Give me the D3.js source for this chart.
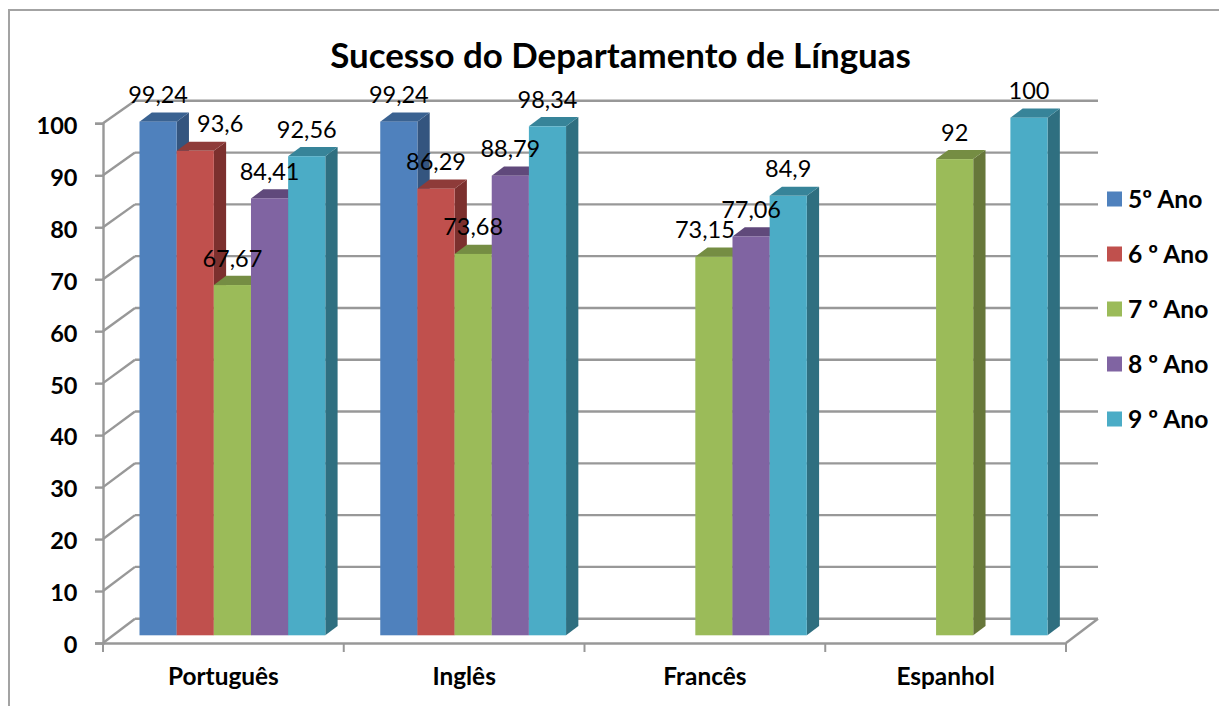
<!DOCTYPE html>
<html><head><meta charset="utf-8">
<style>html,body{margin:0;padding:0;background:#fff;overflow:hidden}svg{display:block}text{font-family:Lato,"Noto Sans",sans-serif;fill:#000}</style>
<script src="https://cdn.jsdelivr.net/npm/d3@7/dist/d3.min.js"></script>
</head><body><svg id="c" width="1219" height="706"></svg>
<script>
const title = "Sucesso do Departamento de Línguas";
const categories = ["Português","Inglês","Francês","Espanhol"];
const seriesNames = ["5º Ano","6 º Ano","7 º Ano","8 º Ano","9 º Ano"];
const ano5 = [99.24,99.24,null,null];
const ano6 = [93.6,86.29,null,null];
const ano7 = [67.67,73.68,73.15,92];
const ano8 = [84.41,88.79,77.06,null];
const ano9 = [92.56,98.34,84.9,100];
const valueLists = [ano5,ano6,ano7,ano8,ano9];
const yTicks = [0,10,20,30,40,50,60,70,80,90,100];
const frontColors = ["#4F81BD","#C0504D","#9BBB59","#8064A2","#4BACC6"];
const topColors = ["#3A6291","#8E3B39","#758D43","#60497B","#378499"];
const sideColors = ["#34557F","#7C302E","#67773A","#54406F","#2F6F80"];

const svg = d3.select("#c");
const W = 1219, H = 706;
const grid = "#989898";
const yFront = d3.scaleLinear().domain([0,100]).range([643,123.3]);
const yBar = d3.scaleLinear().domain([0,100]).range([635.3,117.7]);
const yBack = d3.scaleLinear().domain([0,100]).range([618.7,100.8]);
const x0 = d3.scaleBand().domain(categories).range([103,1066]);
const x1 = d3.scaleBand().domain(seriesNames).range([36.5,222.3]);
const wallDx = 32, depthX = 12.3, depthY = 9.2;

// outer frame
svg.append("path").attr("d",`M9,${H} V10 H${W}`).attr("fill","none").attr("stroke","#a3a3a3").attr("stroke-width",2);

// title
svg.append("text").attr("x",620.5).attr("y",67.5).attr("text-anchor","middle")
  .attr("font-size",34.9).attr("font-weight",700).text(title);

// back wall and side wall gridlines
const gridG = svg.append("g").attr("fill","none").attr("stroke",grid).attr("stroke-width",2.4);
gridG.selectAll(".h").data(yTicks).join("line")
  .attr("x1",103+wallDx).attr("x2",1066+wallDx)
  .attr("y1",d=>yBack(d)).attr("y2",d=>yBack(d));
gridG.selectAll(".d").data(yTicks).join("line")
  .attr("x1",103).attr("x2",103+wallDx)
  .attr("y1",d=>yFront(d)).attr("y2",d=>yBack(d));
gridG.append("line").attr("x1",1066).attr("x2",1066+wallDx)
  .attr("y1",yFront(0)).attr("y2",yBack(0));

// axes
const yAxis = d3.axisLeft(yFront).tickValues(yTicks).tickSize(8).tickPadding(17).tickFormat(d3.format("d"));
const yG = svg.append("g").attr("transform","translate(103,0)").call(yAxis);
yG.selectAll("path,line").attr("stroke",grid).attr("stroke-width",2.4);
yG.selectAll("text").attr("font-size",23.5).attr("font-weight",700).attr("dy","0.42em").attr("x",-25.5);

const xAxis = d3.axisBottom(x0).tickSize(0).tickPadding(25);
const xG = svg.append("g").attr("transform",`translate(0,${yFront(0)})`).call(xAxis);
xG.select("path").attr("stroke",grid).attr("stroke-width",2.4);
xG.selectAll("text").attr("font-size",24.4).attr("font-weight",700).attr("font-family","Lato");
const edges = categories.map(c=>x0(c)).concat([x0.range()[1]]);
svg.append("g").selectAll("line").data(edges).join("line")
  .attr("x1",d=>d).attr("x2",d=>d).attr("y1",yFront(0)).attr("y2",yFront(0)+9)
  .attr("stroke",grid).attr("stroke-width",2);

// bars
const bars = [];
categories.forEach((c,ci)=>seriesNames.forEach((s,si)=>{
  const v = valueLists[si][ci];
  if(v!==null) bars.push({c,s,si,v});
}));
const barG = svg.append("g");
bars.forEach(b=>{
  const g = barG.append("g");
  const L = x0(b.c)+x1(b.s), R = L+x1.bandwidth(), T = yBar(b.v), B = yBar(0);
  g.append("path").attr("fill",sideColors[b.si])
    .attr("d",`M${R},${T} L${R+depthX},${T-depthY} V${B-depthY} L${R},${B} Z`);
  g.append("path").attr("fill",topColors[b.si])
    .attr("d",`M${L},${T} L${L+depthX},${T-depthY} H${R+depthX} L${R},${T} Z`);
  g.append("rect").attr("x",L).attr("y",T).attr("width",x1.bandwidth()).attr("height",B-T)
    .attr("fill",frontColors[b.si]);
});

// data labels
const fmt = v => String(v).replace(".",",");
const nudges = new Map([["Português|6 º Ano",25],["Francês|7 º Ano",-9]]);
svg.append("g").selectAll("text").data(bars).join("text")
  .attr("x",d=>x0(d.c)+x1(d.s)+x1.bandwidth()/2+(nudges.get(d.c+"|"+d.s)||0))
  .attr("y",d=>yBar(d.v)-27)
  .attr("dy","0.36em").attr("text-anchor","middle").attr("font-size",23.5)
  .text(d=>fmt(d.v));

// legend
const legendY = d3.scalePoint().domain(seriesNames).range([199,419]);
const lg = svg.append("g").selectAll("g").data(seriesNames).join("g")
  .attr("transform",d=>`translate(1107,${legendY(d)})`);
lg.append("rect").attr("y",-7.5).attr("width",15).attr("height",15).attr("fill",(d,i)=>frontColors[i]);
lg.append("text").attr("x",21).attr("dy","0.36em").attr("font-size",24.6).attr("font-weight",700).text(d=>d);
</script></body></html>
